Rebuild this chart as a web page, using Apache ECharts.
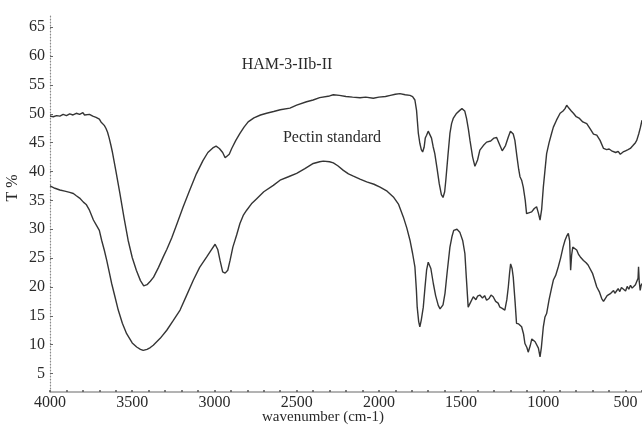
<!DOCTYPE html>
<html>
<head>
<meta charset="utf-8">
<title>FT-IR spectra</title>
<script src="https://cdn.jsdelivr.net/npm/echarts@6/dist/echarts.min.js"></script>
<style>
  html, body { margin: 0; padding: 0; background: #fff; }
  #chart { width: 642px; height: 428px; }
</style>
</head>
<body>
<div id="chart"></div>
<script>
// FT-IR transmittance spectra, wavenumber (cm-1) vs T %
const hamWavenumber = [
  4000,3980,3960,3940,3920,3900,3880,3860,3840,3820,3800,3790,3780,3760,3740,3720,3700,3690,3680,3670,
  3660,3650,3640,3630,3620,3600,3575,3550,3525,3500,3475,3450,3430,3410,3390,3370,3340,3310,3290,3260,
  3230,3190,3150,3110,3070,3040,3010,2990,2970,2950,2935,2925,2910,2895,2870,2845,2820,2795,2760,2720,
  2683,2640,2600,2541,2500,2440,2400,2360,2300,2277,2240,2200,2160,2115,2080,2034,2000,1960,1930,1900,
  1872,1840,1811,1795,1781,1771,1760,1751,1742,1734,1725,1718,1710,1700,1690,1680,1670,1660,1645,1633,
  1620,1610,1600,1593,1580,1568,1558,1548,1530,1508,1495,1487,1478,1467,1456,1446,1430,1416,1400,1386,
  1365,1345,1320,1300,1284,1265,1250,1244,1230,1213,1200,1193,1183,1173,1160,1150,1142,1132,1122,1110,
  1102,1090,1071,1055,1041,1030,1020,1010,1000,990,980,965,950,939,920,898,880,868,858,845,
  830,817,800,780,760,736,715,695,675,655,634,615,600,585,573,560,545,532,515,500,
  485,471,455,440,432,420,410,400
];
const hamT = [
  49.6,49.5,49.7,49.6,49.9,49.7,50.0,49.8,50.1,49.9,50.2,49.8,50.0,49.9,49.6,49.4,49.1,48.6,48.3,48.0,
  47.5,46.8,45.8,44.6,43.3,40.2,36.2,32.0,28.1,25.1,22.9,21.1,20.2,20.4,21.0,21.7,23.4,25.3,26.5,28.5,
  30.8,33.9,36.8,39.6,41.9,43.3,44.1,44.4,44.0,43.3,42.4,42.2,43.0,44.0,45.4,46.6,47.7,48.6,49.3,49.8,
  50.1,50.4,50.7,51.0,51.5,52.1,52.4,52.8,53.1,53.3,53.2,53.0,52.9,52.8,52.9,52.7,52.9,53.0,53.2,53.4,
  53.5,53.3,53.2,53.0,52.4,50.6,46.6,44.9,43.8,43.4,44.2,45.8,46.3,47.0,47.3,45.8,44.3,43.1,40.3,37.9,
  36.0,35.5,36.5,38.5,42.8,46.6,48.3,49.2,50.0,50.6,50.9,51.0,50.5,49.2,47.4,45.4,42.5,40.9,42.0,43.7,
  44.5,45.1,45.3,45.8,45.9,44.6,43.6,43.4,44.5,46.0,47.0,47.2,46.5,45.4,42.5,40.4,39.1,38.5,37.3,35.0,
  32.7,33.0,33.0,33.6,33.9,32.8,31.6,33.5,37.3,40.2,43.1,45.0,46.6,47.7,48.9,50.1,50.5,50.9,51.5,51.0,
  50.5,50.1,49.5,49.2,48.6,48.3,47.4,46.5,46.3,45.4,44.0,43.8,43.9,43.6,43.7,43.3,43.5,43.0,43.4,43.6,
  43.8,44.0,44.5,45.0,45.4,46.5,47.6,48.9
];

const pectinWavenumber = [
  4000,3970,3940,3910,3880,3858,3840,3820,3797,3780,3760,3736,3720,3700,3686,3670,3655,3640,3625,3605,
  3585,3560,3534,3500,3473,3450,3433,3410,3390,3372,3330,3290,3250,3209,3170,3128,3090,3047,3020,2996,
  2980,2966,2950,2935,2919,2905,2888,2865,2845,2825,2804,2775,2743,2700,2642,2601,2550,2500,2450,2399,
  2360,2338,2300,2277,2250,2216,2185,2155,2115,2074,2030,1993,1950,1912,1880,1851,1830,1811,1795,1781,
  1772,1767,1758,1751,1742,1730,1720,1710,1700,1694,1684,1669,1655,1639,1628,1619,1610,1598,1585,1568,
  1555,1545,1538,1525,1508,1490,1477,1468,1457,1445,1426,1410,1400,1386,1370,1357,1345,1330,1318,1305,
  1290,1275,1264,1250,1234,1222,1213,1205,1199,1190,1183,1172,1163,1150,1132,1120,1112,1100,1092,1080,
  1070,1061,1050,1041,1030,1020,1012,1000,990,980,965,950,939,925,909,895,880,868,858,848,
  840,834,828,821,810,797,785,775,766,756,740,728,716,700,688,675,660,645,634,624,
  612,600,590,580,573,565,555,545,535,525,513,500,490,480,470,460,452,440,430,424,
  421,417,411,405,400
];
const pectinT = [
  37.5,37.1,36.8,36.6,36.4,36.2,35.8,35.4,34.7,34.3,33.3,31.6,30.8,29.8,28.1,26.4,24.6,22.6,20.6,18.3,
  16.0,13.7,11.9,10.3,9.6,9.2,9.0,9.2,9.5,9.9,11.1,12.5,14.2,16.0,18.5,21.2,23.4,25.2,26.4,27.4,
  26.5,24.6,22.6,22.4,22.9,24.6,26.9,29.0,31.0,32.4,33.3,34.4,35.3,36.5,37.6,38.5,39.1,39.7,40.5,41.4,
  41.7,41.8,41.7,41.5,41.0,40.2,39.6,39.2,38.7,38.2,37.8,37.3,36.6,35.6,34.3,32.1,30.2,28.1,25.8,23.5,
  19.5,16.5,14.0,13.1,14.3,16.5,19.8,22.9,24.3,24.6,23.2,20.6,18.5,16.8,16.2,16.0,16.9,18.9,22.5,26.9,
  28.8,29.8,30.1,30.0,29.5,28.0,25.8,21.5,16.5,17.2,18.3,17.8,18.4,18.6,18.1,18.5,17.7,18.0,18.6,18.3,
  17.5,17.2,16.5,16.3,16.0,17.8,20.0,22.5,24.0,23.2,21.7,17.5,13.7,13.6,13.1,11.8,10.2,9.5,8.7,9.8,
  11.0,11.3,10.5,10.8,9.4,7.9,9.5,13.1,14.8,15.4,17.8,19.8,21.2,22.0,23.5,25.0,26.9,28.1,28.8,29.3,
  28.0,22.9,25.5,26.9,27.2,26.4,25.6,25.2,25.5,24.6,24.2,23.8,23.5,22.3,21.2,20.0,19.2,18.0,17.5,17.7,
  18.5,18.2,18.9,18.6,19.4,18.9,19.3,19.7,19.2,19.9,19.7,19.3,20.1,19.6,20.3,19.8,20.0,20.4,20.2,21.5,
  23.5,21.0,19.4,20.3,20.6
];

// Axis labels and ticks
const xTickLabels = [4000, 3500, 3000, 2500, 2000, 1500, 1000, 500];
const xMinorTicks = [];
for (let w = 4000; w >= 400; w -= 100) xMinorTicks.push(w);
const yTickLabels = [5, 10, 15, 20, 25, 30, 35, 40, 45, 50, 55, 60, 65];

const seriesNames = ['HAM-3-IIb-II', 'Pectin standard'];
const xAxisName = 'wavenumber (cm-1)';
const yAxisName = 'T %';

const pair = (xs, ys) => xs.map((x, i) => [x, ys[i]]);

const serif = '"Liberation Serif", "DejaVu Serif", serif';
const textColor = '#2a2a2a';
const lineColor = '#353535';

const chart = echarts.init(document.getElementById('chart'), null, { renderer: 'canvas' });

const textEl = (txt, x, y, size, rotation) => ({
  type: 'text', x: x, y: y, rotation: rotation || 0,
  style: { text: txt, align: 'center', verticalAlign: 'middle', font: size + 'px ' + serif, fill: textColor }
});

chart.setOption({
  animation: false,
  backgroundColor: '#ffffff',
  grid: { left: 50, right: 0, top: 14, bottom: 36, containLabel: false },
  xAxis: {
    type: 'value',
    inverse: true,
    min: 400,
    max: 4000,
    splitLine: { show: false },
    axisLine: { onZero: false, lineStyle: { color: '#9a9a9a', width: 1.5 } },
    axisTick: {
      show: true, inside: true, length: 2,
      customValues: xMinorTicks,
      lineStyle: { color: '#555', width: 1.5 }
    },
    axisLabel: {
      customValues: xTickLabels,
      formatter: v => String(v),
      margin: 3,
      color: textColor,
      fontFamily: serif,
      fontSize: 16
    }
  },
  yAxis: {
    type: 'value',
    min: 1.8,
    max: 67.3,
    splitLine: { show: false },
    axisLine: { show: true, lineStyle: { color: '#8a8a8a', width: 1.2, type: [1, 2] } },
    axisTick: {
      show: true, inside: true, length: 3,
      customValues: yTickLabels,
      lineStyle: { color: '#666', width: 1 }
    },
    axisLabel: {
      customValues: yTickLabels,
      formatter: v => String(v),
      margin: 5,
      color: textColor,
      fontFamily: serif,
      fontSize: 16
    }
  },
  graphic: [
    textEl(xAxisName, 323, 417, 15),
    textEl(yAxisName, 13, 188, 16, Math.PI / 2),
    textEl(seriesNames[0], 287, 65, 16),
    textEl(seriesNames[1], 332, 138, 16)
  ],
  series: [
    {
      name: seriesNames[0], type: 'line', showSymbol: false, silent: true,
      lineStyle: { color: lineColor, width: 1.4 },
      data: pair(hamWavenumber, hamT)
    },
    {
      name: seriesNames[1], type: 'line', showSymbol: false, silent: true,
      lineStyle: { color: lineColor, width: 1.4 },
      data: pair(pectinWavenumber, pectinT)
    }
  ]
});
</script>
</body>
</html>
